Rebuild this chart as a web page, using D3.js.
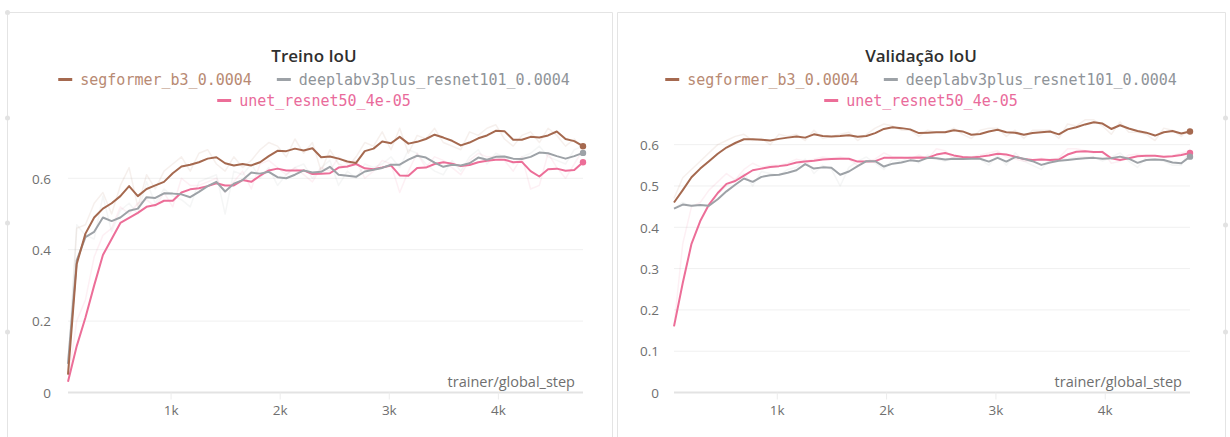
<!DOCTYPE html>
<html>
<head>
<meta charset="utf-8">
<script src="https://cdn.jsdelivr.net/npm/d3@7"></script>
<style>
  html, body { margin: 0; padding: 0; background: #ffffff; }
  svg { display: block; }
</style>
</head>
<body>
<svg id="chart" width="1230" height="437"></svg>
<script>
// Logged training steps (shared by every run)
const steps = [60, 140, 220, 300, 380, 460, 540, 620, 700, 780,
  860, 940, 1020, 1100, 1180, 1260, 1340, 1420, 1500, 1580,
  1660, 1740, 1820, 1900, 1980, 2060, 2140, 2220, 2300, 2380,
  2460, 2540, 2620, 2700, 2780, 2860, 2940, 3020, 3100, 3180,
  3260, 3340, 3420, 3500, 3580, 3660, 3740, 3820, 3900, 3980,
  4060, 4140, 4220, 4300, 4380, 4460, 4540, 4620, 4700, 4780];

const runNames = ["segformer_b3_0.0004", "deeplabv3plus_resnet101_0.0004", "unet_resnet50_4e-05"];
const runColors = ["#a5694f", "#9da2a7", "#ec6e98"];
const legendTextColors = ["#b88a73", "#8f9499", "#e96b9b"];

const xTicks = [1000, 2000, 3000, 4000];
const treinoYTicks = [0, 0.2, 0.4, 0.6];
const validacaoYTicks = [0, 0.1, 0.2, 0.3, 0.4, 0.5, 0.6];

// Treino IoU — smoothed curves
const treinoSegformer = [0.05, 0.36, 0.445, 0.49, 0.515, 0.53, 0.55, 0.578, 0.55, 0.57,
  0.58, 0.59, 0.614, 0.633, 0.638, 0.645, 0.655, 0.659, 0.642, 0.636,
  0.64, 0.636, 0.645, 0.662, 0.677, 0.676, 0.683, 0.678, 0.684, 0.659,
  0.661, 0.655, 0.647, 0.643, 0.676, 0.683, 0.703, 0.698, 0.716, 0.697,
  0.702, 0.71, 0.722, 0.714, 0.705, 0.692, 0.7, 0.712, 0.72, 0.733,
  0.732, 0.708, 0.708, 0.716, 0.714, 0.72, 0.731, 0.71, 0.704, 0.69];
const treinoDeeplab = [0.08, 0.37, 0.435, 0.45, 0.49, 0.48, 0.49, 0.509, 0.515, 0.547,
  0.545, 0.558, 0.557, 0.555, 0.547, 0.562, 0.578, 0.59, 0.563, 0.585,
  0.595, 0.616, 0.613, 0.618, 0.603, 0.6, 0.61, 0.622, 0.616, 0.618,
  0.632, 0.61, 0.607, 0.604, 0.619, 0.624, 0.629, 0.638, 0.638, 0.652,
  0.663, 0.658, 0.644, 0.632, 0.638, 0.636, 0.642, 0.658, 0.652, 0.66,
  0.661, 0.655, 0.654, 0.66, 0.672, 0.67, 0.662, 0.655, 0.662, 0.671];
const treinoUnet = [0.03, 0.13, 0.21, 0.3, 0.385, 0.43, 0.475, 0.489, 0.503, 0.52,
  0.525, 0.537, 0.537, 0.56, 0.569, 0.572, 0.578, 0.586, 0.58, 0.58,
  0.595, 0.59, 0.607, 0.622, 0.627, 0.622, 0.622, 0.622, 0.612, 0.613,
  0.614, 0.63, 0.633, 0.64, 0.628, 0.625, 0.63, 0.636, 0.608, 0.607,
  0.629, 0.63, 0.64, 0.645, 0.641, 0.634, 0.637, 0.645, 0.649, 0.652,
  0.652, 0.645, 0.646, 0.62, 0.605, 0.625, 0.627, 0.621, 0.623, 0.645];

// Treino IoU — raw values
const treinoSegformerRaw = [0.05, 0.46, 0.47, 0.53, 0.56, 0.5, 0.58, 0.63, 0.52, 0.61,
  0.57, 0.62, 0.64, 0.66, 0.62, 0.67, 0.68, 0.64, 0.62, 0.66,
  0.63, 0.65, 0.68, 0.7, 0.69, 0.66, 0.71, 0.67, 0.7, 0.62,
  0.68, 0.64, 0.63, 0.66, 0.7, 0.69, 0.73, 0.68, 0.74, 0.67,
  0.72, 0.71, 0.74, 0.7, 0.69, 0.68, 0.73, 0.72, 0.74, 0.75,
  0.71, 0.69, 0.72, 0.73, 0.7, 0.74, 0.72, 0.69, 0.71, 0.68];
const treinoDeeplabRaw = [0.08, 0.47, 0.44, 0.43, 0.55, 0.45, 0.51, 0.53, 0.5, 0.59,
  0.53, 0.57, 0.55, 0.54, 0.52, 0.59, 0.6, 0.61, 0.5, 0.62,
  0.61, 0.64, 0.6, 0.63, 0.58, 0.61, 0.63, 0.64, 0.6, 0.63,
  0.65, 0.58, 0.62, 0.6, 0.64, 0.63, 0.64, 0.66, 0.63, 0.68,
  0.67, 0.64, 0.62, 0.61, 0.65, 0.62, 0.66, 0.68, 0.64, 0.67,
  0.66, 0.64, 0.66, 0.67, 0.69, 0.66, 0.65, 0.64, 0.68, 0.69];
const treinoUnetRaw = [0.03, 0.2, 0.26, 0.38, 0.44, 0.46, 0.52, 0.5, 0.53, 0.54,
  0.52, 0.56, 0.52, 0.6, 0.58, 0.58, 0.59, 0.6, 0.56, 0.59,
  0.62, 0.57, 0.64, 0.65, 0.63, 0.61, 0.63, 0.61, 0.59, 0.63,
  0.62, 0.66, 0.64, 0.65, 0.6, 0.62, 0.65, 0.64, 0.56, 0.62,
  0.67, 0.63, 0.66, 0.65, 0.63, 0.61, 0.65, 0.67, 0.66, 0.66,
  0.65, 0.62, 0.66, 0.57, 0.58, 0.67, 0.63, 0.6, 0.64, 0.68];

// Validação IoU — smoothed curves
const validacaoSegformer = [0.46, 0.49, 0.521, 0.542, 0.56, 0.578, 0.593, 0.604, 0.613, 0.613,
  0.612, 0.61, 0.614, 0.617, 0.62, 0.617, 0.625, 0.621, 0.62, 0.621,
  0.623, 0.619, 0.621, 0.628, 0.638, 0.642, 0.64, 0.637, 0.628, 0.629,
  0.63, 0.63, 0.635, 0.632, 0.624, 0.626, 0.632, 0.636, 0.63, 0.629,
  0.624, 0.628, 0.63, 0.632, 0.625, 0.637, 0.642, 0.649, 0.654, 0.651,
  0.638, 0.647, 0.639, 0.633, 0.629, 0.622, 0.63, 0.633, 0.627, 0.632];
const validacaoDeeplab = [0.445, 0.455, 0.452, 0.454, 0.452, 0.468, 0.487, 0.503, 0.518, 0.51,
  0.522, 0.526, 0.527, 0.532, 0.538, 0.553, 0.542, 0.545, 0.544, 0.527,
  0.535, 0.548, 0.56, 0.56, 0.547, 0.554, 0.557, 0.562, 0.56, 0.568,
  0.567, 0.564, 0.566, 0.565, 0.566, 0.566, 0.559, 0.568, 0.559, 0.57,
  0.566, 0.56, 0.551, 0.557, 0.561, 0.563, 0.565, 0.567, 0.568, 0.566,
  0.567, 0.571, 0.566, 0.556, 0.563, 0.564, 0.563, 0.557, 0.555, 0.571];
const validacaoUnet = [0.16, 0.265, 0.36, 0.415, 0.455, 0.483, 0.505, 0.512, 0.525, 0.538,
  0.542, 0.546, 0.548, 0.551, 0.557, 0.559, 0.561, 0.564, 0.565, 0.566,
  0.566, 0.559, 0.559, 0.56, 0.568, 0.568, 0.568, 0.568, 0.569, 0.568,
  0.576, 0.58, 0.574, 0.57, 0.569, 0.571, 0.574, 0.578, 0.576, 0.571,
  0.565, 0.563, 0.564, 0.563, 0.564, 0.576, 0.583, 0.584, 0.582, 0.582,
  0.567, 0.563, 0.567, 0.572, 0.573, 0.573, 0.571, 0.572, 0.575, 0.58];

// Validação IoU — raw values
const validacaoSegformerRaw = [0.47, 0.52, 0.54, 0.56, 0.58, 0.6, 0.61, 0.62, 0.625, 0.61,
  0.615, 0.6, 0.625, 0.62, 0.625, 0.61, 0.635, 0.615, 0.62, 0.625,
  0.63, 0.61, 0.625, 0.64, 0.65, 0.645, 0.635, 0.635, 0.62, 0.635,
  0.63, 0.63, 0.64, 0.625, 0.615, 0.635, 0.64, 0.64, 0.62, 0.635,
  0.615, 0.635, 0.635, 0.635, 0.615, 0.65, 0.645, 0.66, 0.66, 0.645,
  0.625, 0.655, 0.63, 0.63, 0.625, 0.61, 0.64, 0.635, 0.62, 0.64];
const validacaoDeeplabRaw = [0.445, 0.46, 0.45, 0.455, 0.45, 0.48, 0.5, 0.515, 0.53, 0.5,
  0.535, 0.53, 0.525, 0.54, 0.545, 0.565, 0.53, 0.55, 0.54, 0.5,
  0.545, 0.56, 0.57, 0.555, 0.54, 0.565, 0.56, 0.57, 0.555, 0.575,
  0.565, 0.56, 0.57, 0.565, 0.57, 0.565, 0.55, 0.575, 0.55, 0.58,
  0.56, 0.55, 0.54, 0.565, 0.565, 0.565, 0.57, 0.57, 0.57, 0.56,
  0.57, 0.58, 0.56, 0.545, 0.57, 0.565, 0.56, 0.55, 0.55, 0.59];
const validacaoUnetRaw = [0.16, 0.36, 0.45, 0.46, 0.49, 0.51, 0.53, 0.515, 0.54, 0.555,
  0.545, 0.55, 0.55, 0.555, 0.565, 0.56, 0.565, 0.57, 0.567, 0.57,
  0.565, 0.55, 0.56, 0.565, 0.58, 0.57, 0.57, 0.565, 0.575, 0.565,
  0.59, 0.585, 0.565, 0.565, 0.57, 0.575, 0.58, 0.585, 0.57, 0.565,
  0.56, 0.56, 0.567, 0.56, 0.568, 0.59, 0.59, 0.585, 0.58, 0.585,
  0.555, 0.56, 0.575, 0.577, 0.573, 0.574, 0.568, 0.574, 0.58, 0.585];

const svg = d3.select("#chart");
const uiFont = "'Open Sans', 'Noto Sans', sans-serif";
const monoFont = "'DejaVu Sans Mono', 'Liberation Mono', monospace";

// Panel frames
function drawFrame(x0, x1) {
  svg.append("path")
    .attr("d", `M${x0},437 V12.5 H${x1} V437`)
    .attr("fill", "none").attr("stroke", "#e4e4e4").attr("stroke-width", 1);
}
drawFrame(7.5, 612.5);
drawFrame(617.5, 1225.5);
[[7.5, 12.5], [7.5, 118], [7.5, 223], [7.5, 332], [1225.5, 118], [1225.5, 225], [1225.5, 332]]
  .forEach(([cx, cy]) => svg.append("circle").attr("cx", cx).attr("cy", cy).attr("r", 2.5).attr("fill", "#e2e2e2"));

function drawPanel(cfg) {
  const x = d3.scaleLinear().domain([steps[0], steps[steps.length - 1]]).range(cfg.xRange);
  const y = d3.scaleLinear().domain(cfg.yDomain).range([392.5, 124]);
  const g = svg.append("g");

  // Horizontal grid
  g.selectAll(".grid").data(cfg.yTicks.filter(d => d > 0)).join("line")
    .attr("x1", cfg.xRange[0]).attr("x2", cfg.xRange[1])
    .attr("y1", d => y(d)).attr("y2", d => y(d))
    .attr("stroke", "#f0f0f0").attr("stroke-width", 1);

  // Y axis labels
  const yAxis = d3.axisLeft(y).tickValues(cfg.yTicks).tickSize(0).tickPadding(0)
    .tickFormat(d => d === 0 ? "0" : d3.format(".1f")(d));
  const ya = g.append("g").attr("transform", `translate(${cfg.yLabelX},0)`).call(yAxis);
  ya.select(".domain").remove();
  ya.selectAll("text").attr("font-family", uiFont).attr("font-size", 13.5).attr("fill", "#6f6f6f").attr("dy", "0.35em");

  // X axis: baseline, ticks and labels
  const xAxis = d3.axisBottom(x).tickValues(xTicks).tickSize(7).tickPadding(6)
    .tickFormat(d => (d / 1000) + "k");
  const xa = g.append("g").attr("transform", `translate(0,${y(0)})`).call(xAxis);
  xa.select(".domain").attr("stroke", "#e3e3e3").attr("stroke-width", 2)
    .attr("d", `M${cfg.xRange[0]},0H${cfg.xRange[1]}`);
  xa.selectAll(".tick line").attr("stroke", "#ececec");
  xa.selectAll("text").attr("font-family", uiFont).attr("font-size", 13.5).attr("fill", "#6f6f6f");

  g.append("text").attr("x", cfg.xRange[1] - 8).attr("y", 387)
    .attr("text-anchor", "end").attr("font-family", uiFont).attr("font-size", 14.5)
    .attr("fill", "#6f6f6f").text("trainer/global_step");

  const line = d3.line().x((d, i) => x(steps[i])).y(d => y(d));

  // Raw traces (faint) underneath
  cfg.raw.forEach((vals, k) => {
    g.append("path").datum(vals).attr("d", line)
      .attr("fill", "none").attr("stroke", runColors[k]).attr("stroke-opacity", 0.1)
      .attr("stroke-width", 1.5).attr("stroke-linejoin", "round");
  });
  // Smoothed traces, drawn so segformer ends up on top
  [2, 1, 0].forEach(k => {
    g.append("path").datum(cfg.smooth[k]).attr("d", line)
      .attr("fill", "none").attr("stroke", runColors[k])
      .attr("stroke-width", 2).attr("stroke-linejoin", "round");
  });
  [2, 1, 0].forEach(k => {
    const vals = cfg.smooth[k];
    g.append("circle").attr("cx", x(steps[steps.length - 1])).attr("cy", y(vals[vals.length - 1]))
      .attr("r", 3.2).attr("fill", runColors[k]);
  });

  // Title
  g.append("text").attr("x", cfg.center).attr("y", 62).attr("text-anchor", "middle")
    .attr("font-family", uiFont).attr("font-size", 17).attr("font-weight", 600)
    .attr("fill", "#2f2f2f").text(cfg.title);

  // Legend: two centred rows
  const rows = [[0, 1], [2]];
  rows.forEach((row, r) => {
    const lg = g.append("g");
    let cursor = 0;
    row.forEach(k => {
      const item = lg.append("g").attr("transform", `translate(${cursor},0)`);
      item.append("line").attr("x1", 0).attr("x2", 14).attr("y1", 0).attr("y2", 0)
        .attr("stroke", runColors[k]).attr("stroke-width", 3);
      const t = item.append("text").attr("x", 22).attr("y", 5)
        .attr("font-family", monoFont).attr("font-size", 15)
        .attr("fill", legendTextColors[k]).text(runNames[k]);
      cursor += 22 + t.node().getComputedTextLength() + 25;
    });
    const width = cursor - 25;
    lg.attr("transform", `translate(${cfg.center - width / 2},${r === 0 ? 79.5 : 100.5})`);
  });
}

drawPanel({
  title: "Treino IoU", center: 314, xRange: [68, 583], yLabelX: 51,
  yDomain: [0, 0.752], yTicks: treinoYTicks,
  smooth: [treinoSegformer, treinoDeeplab, treinoUnet],
  raw: [treinoSegformerRaw, treinoDeeplabRaw, treinoUnetRaw]
});
drawPanel({
  title: "Validação IoU", center: 921, xRange: [674, 1190], yLabelX: 659,
  yDomain: [0, 0.65], yTicks: validacaoYTicks,
  smooth: [validacaoSegformer, validacaoDeeplab, validacaoUnet],
  raw: [validacaoSegformerRaw, validacaoDeeplabRaw, validacaoUnetRaw]
});
</script>
</body>
</html>
